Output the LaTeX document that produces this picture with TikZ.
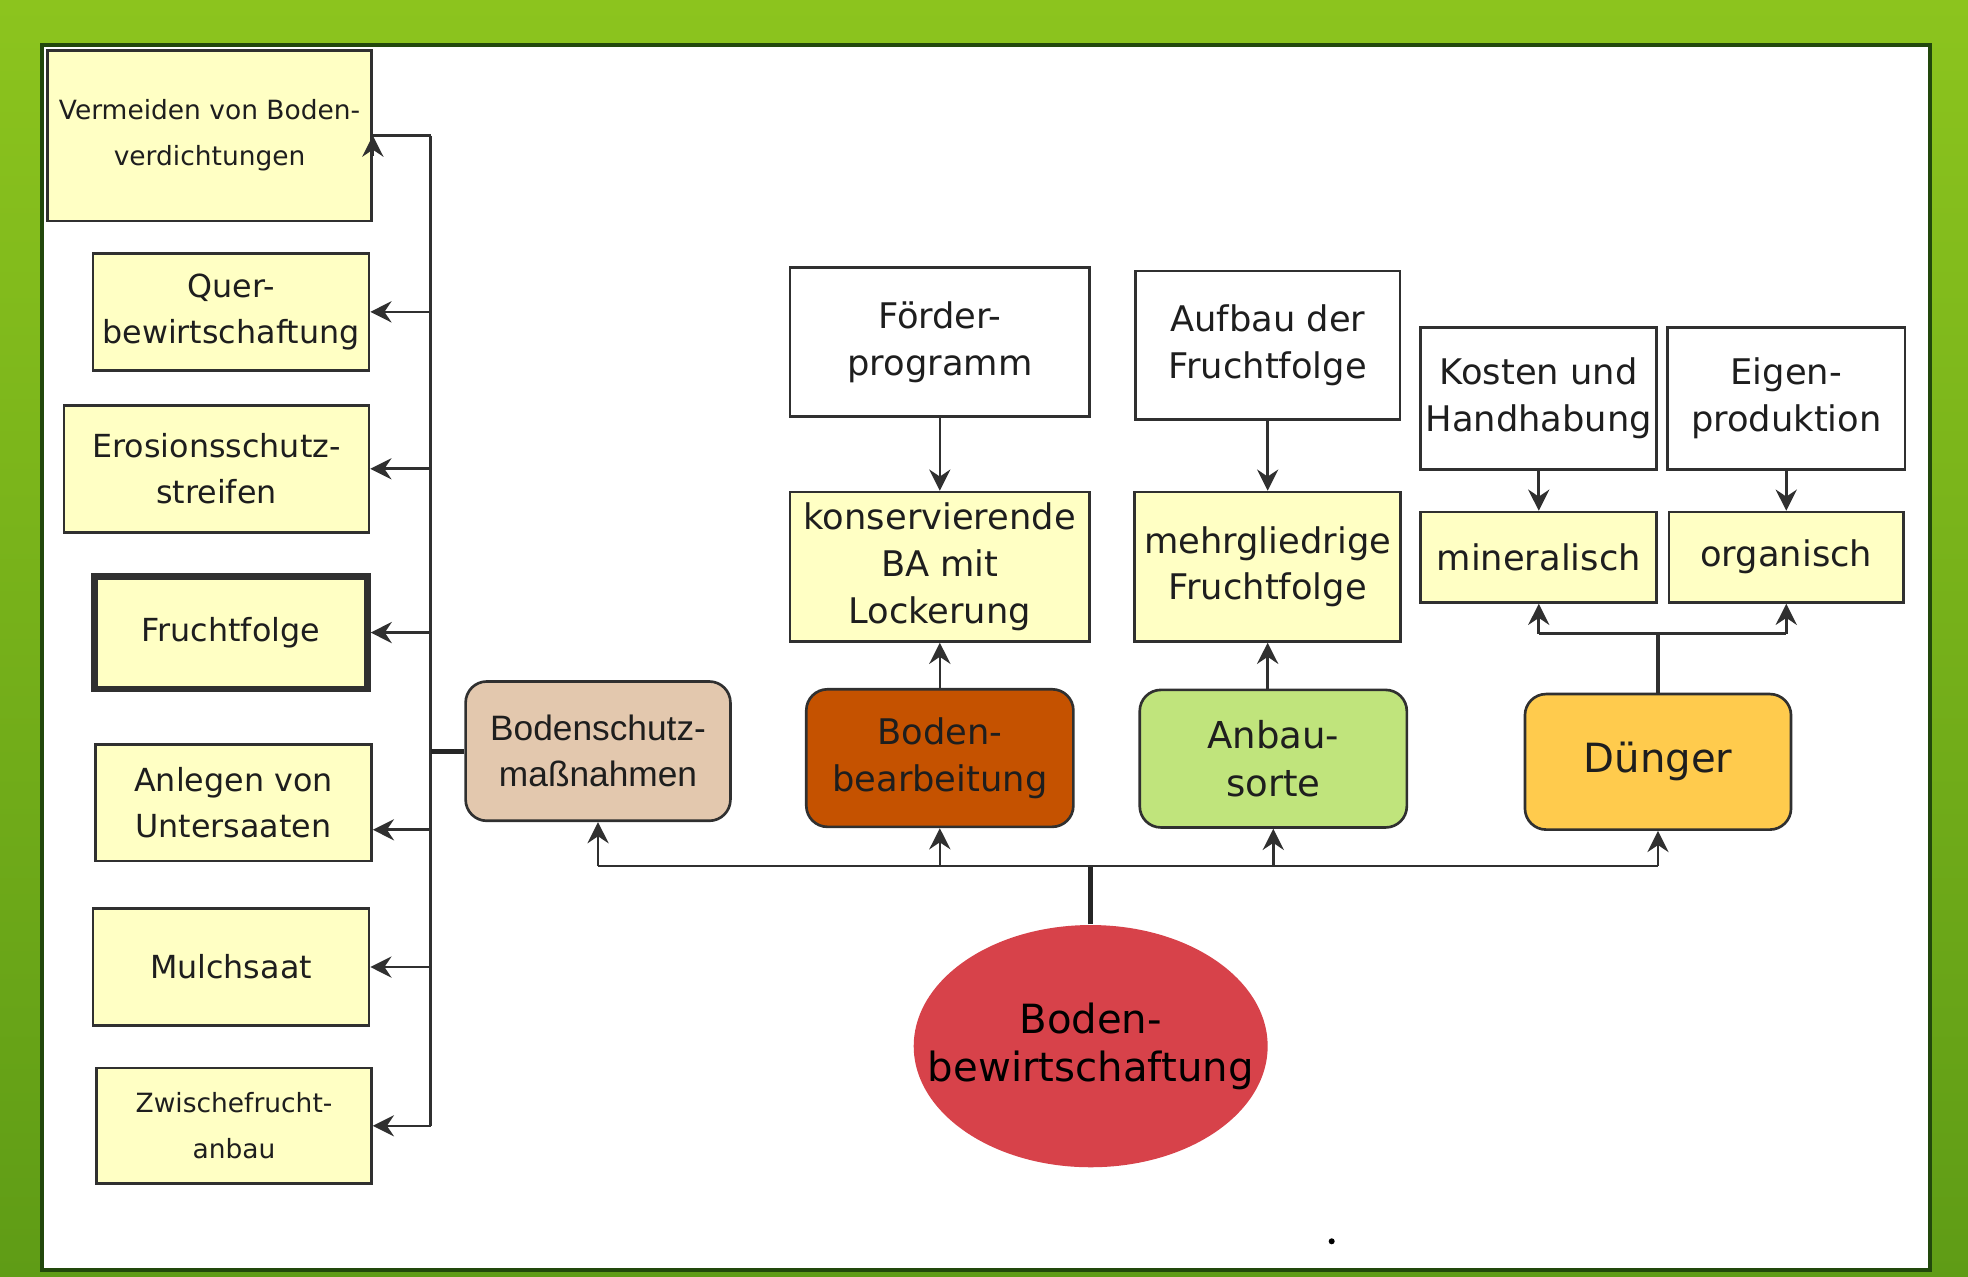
\documentclass[tikz,border=0pt]{standalone}
\usepackage{fontspec}
\setmainfont{DejaVu Sans}
\newfontfamily\helvfont{Liberation Sans}
\usepackage{tikz}
\usetikzlibrary{arrows.meta,positioning,shapes.geometric}
\definecolor{bgtop}{HTML}{8CC41E}
\definecolor{bgbottom}{HTML}{5F9C16}
\definecolor{darkgreen}{HTML}{22480C}
\definecolor{boxyellow}{HTML}{FFFFC4}
\definecolor{schutzbrown}{HTML}{E3C8AE}
\definecolor{bearbred}{HTML}{C55200}
\definecolor{sortegreen}{HTML}{C0E47C}
\definecolor{duengergold}{HTML}{FFCB4D}
\definecolor{soilred}{HTML}{D7424A}
\definecolor{linegray}{HTML}{303030}
\definecolor{textgray}{HTML}{1E1E1E}

\begin{document}
\begin{tikzpicture}[>={Stealth[length=6pt,width=6pt,inset=2pt]},on grid]
    \tikzstyle{yel_box}=[draw=linegray,line width=0.75pt,fill=boxyellow,text=textgray,align=center,inner sep=1pt,font=\fontsize{9}{13}\selectfont]
    \tikzstyle{yel_small}=[yel_box,font=\fontsize{7.5}{13}\selectfont]
    \tikzstyle{yel_mid}=[yel_box,font=\fontsize{10}{13.2}\selectfont]
    \tikzstyle{white_box}=[yel_mid,fill=white]
    \tikzstyle{round_box}=[draw=linegray,line width=0.75pt,rounded corners=6pt,text=textgray,align=center,font=\fontsize{10}{13.2}\selectfont,minimum width=2.66cm,minimum height=1.37cm]
    \tikzstyle{conn}=[color=linegray,line width=0.75pt]
    \tikzstyle{conn_thick}=[color=black!85,line width=1.5pt]

    \useasboundingbox (0,0) rectangle (19.6,-12.7125);
    \shade[top color=bgtop,bottom color=bgbottom] (0,0) rectangle (19.6,-12.7125);
    \filldraw[fill=white,draw=darkgreen,line width=1.2pt] (0.42,-0.45) rectangle (19.22,-12.65);

    \node[yel_small,minimum width=3.225cm,minimum height=1.7cm]   (verm)  at (2.0875,-1.35)   {Vermeiden von Boden-\\verdichtungen};
    \node[yel_box,minimum width=2.75cm,minimum height=1.1625cm]   (quer)  at (2.30,-3.106)    {Quer-\\bewirtschaftung};
    \node[yel_box,minimum width=3.0375cm,minimum height=1.2625cm] (eros)  at (2.156,-4.669)   {Erosionsschutz-\\streifen};
    \node[yel_box,line width=1.8pt,minimum width=2.72cm,minimum height=1.12cm] (frucht) at (2.30,-6.30) {Fruchtfolge};
    \node[yel_box,minimum width=2.75cm,minimum height=1.1625cm]   (anl)   at (2.325,-7.994)   {Anlegen von\\Untersaaten};
    \node[yel_box,minimum width=2.75cm,minimum height=1.1625cm]   (mulch) at (2.30,-9.631)    {Mulchsaat};
    \node[yel_small,minimum width=2.7375cm,minimum height=1.15cm] (zwi)   at (2.331,-11.2125) {Zwischefrucht-\\anbau};

    \node[round_box,fill=schutzbrown,minimum width=2.6375cm,minimum height=1.3875cm,font=\helvfont\fontsize{10}{13}\selectfont] (bschutz) at (5.956,-7.481) {Bodenschutz-\\maßnahmen};
    \node[round_box,fill=bearbred]    (bearb)   at (9.36,-7.55)     {Boden-\\bearbeitung};
    \node[round_box,fill=sortegreen,font=\fontsize{10.5}{13.4}\selectfont] (anbau) at (12.681,-7.556) {Anbau-\\sorte};
    \node[round_box,fill=duengergold,minimum width=2.65cm,minimum height=1.35cm,font=\fontsize{11.4}{13.5}\selectfont] (duenger) at (16.5125,-7.5875) {Dünger};

    \node[yel_mid,minimum width=2.9875cm,minimum height=1.4875cm] (konserv) at (9.36,-5.644)   {konservierende\\BA mit\\Lockerung};
    \node[yel_mid,minimum width=2.65cm,minimum height=1.4875cm]   (mehrgl)  at (12.625,-5.644) {mehrgliedrige\\Fruchtfolge};
    \node[yel_mid,minimum width=2.35cm,minimum height=0.9cm]      (mineral) at (15.325,-5.55)  {mineralisch};
    \node[yel_mid,minimum width=2.3375cm,minimum height=0.9cm]    (organ)   at (17.79,-5.55)   {organisch};

    \node[white_box,minimum width=2.9875cm,minimum height=1.4875cm] (foerder) [above=2.2375cm of konserv] {Förder-\\programm};
    \node[white_box,minimum width=2.6375cm,minimum height=1.475cm]  (aufbau)  [above=2.2065cm of mehrgl]  {Aufbau der\\Fruchtfolge};
    \node[white_box,minimum width=2.35cm,minimum height=1.4125cm]   (kosten)  [above=1.581cm of mineral]  {Kosten und\\Handhabung};
    \node[white_box,minimum width=2.3625cm,minimum height=1.4125cm] (eigen)   [above=1.581cm of organ]    {Eigen-\\produktion};

    \node[ellipse,fill=soilred,minimum width=3.525cm,minimum height=2.4125cm] (bewirt) at (10.8625,-10.419) {};
    \node[align=center,text=black,font=\fontsize{11.4}{13.5}\selectfont] (bewirt_text) at (bewirt) {Boden-\\bewirtschaftung};

    \coordinate (bus) at (4.2875,0);
    \coordinate (anl_in) at ([yshift=-0.27cm]anl.east);
    \coordinate (hub) at (10.8625,-8.625);
    \coordinate (fork) at (16.5125,-6.3125);

    \draw[conn] (bus |- verm.east) -- (bus |- zwi.east);
    \draw[conn] (bus |- verm.east) -- (verm.east);
    \draw[conn,->] ([yshift=-0.2cm]verm.east) -- (verm.east);
    \draw[conn_thick] (bschutz.west) -- (bschutz.west -| bus);

\path[conn,->]
(bus |- quer.east) edge (quer.east)
(bus |- eros.east) edge (eros.east)
(bus |- frucht.east) edge (frucht.east)
(bus |- anl_in) edge (anl_in)
(bus |- mulch.east) edge (mulch.east)
(bus |- zwi.east) edge (zwi.east);

    \draw[conn_thick] (bewirt.north) -- (hub);
    \draw[conn] (bschutz.south |- hub) -- (duenger.south |- hub);

\path[conn,->]
(bschutz.south |- hub) edge (bschutz.south)
(bearb.south |- hub) edge (bearb.south)
(anbau.south |- hub) edge (anbau.south)
(duenger.south |- hub) edge (duenger.south)
(bearb) edge (konserv)
(anbau.north -| mehrgl) edge (mehrgl)
(foerder) edge (konserv)
(aufbau) edge (mehrgl)
(kosten) edge (mineral)
(eigen) edge (organ);

    \draw[conn,line width=1pt] (duenger.north) -- (fork);
    \draw[conn] (mineral.south |- fork) -- (organ.south |- fork);

\path[conn,->]
(mineral.south |- fork) edge (mineral.south)
(organ.south |- fork) edge (organ.south);

    \fill[black] (13.2625,-12.3625) circle (0.03);
\end{tikzpicture}
\end{document}
